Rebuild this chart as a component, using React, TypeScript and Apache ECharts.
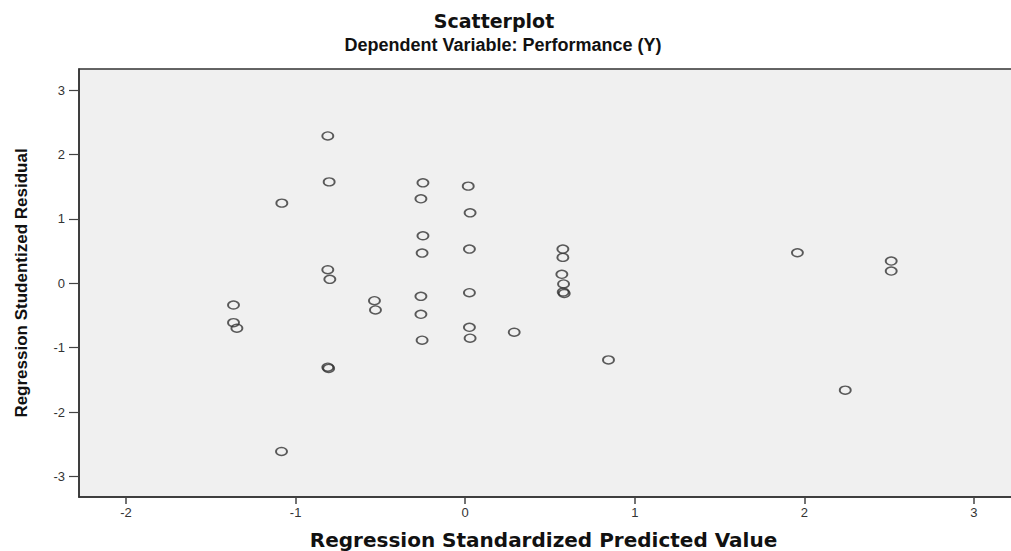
import React, { useEffect, useRef } from "react";
import * as echarts from "echarts";

const predicted: number[] = [
  -0.81, -0.802, -1.081, -0.249, -0.261, 0.018, 0.029, -0.249, -0.254, 0.025,
  0.576, 0.576, 0.57, 0.58, 0.578, 0.584, -0.81, -0.798, -0.261, 0.025,
  -0.535, -0.529, -1.366, -1.366, -1.346, -0.261, 0.025, 0.289, -0.254, 0.029,
  -0.81, -0.805, 0.845, 1.959, 2.512, 2.512, 2.241, -1.083,
];
const residual: number[] = [
  2.29, 1.576, 1.246, 1.561, 1.313, 1.51, 1.095, 0.739, 0.47, 0.532,
  0.532, 0.403, 0.14, -0.01, -0.135, -0.158, 0.211, 0.062, -0.202, -0.146,
  -0.27, -0.414, -0.337, -0.611, -0.698, -0.481, -0.683, -0.76, -0.884, -0.853,
  -1.303, -1.322, -1.19, 0.475, 0.346, 0.191, -1.66, -2.613,
];
const xTicks: number[] = [-2, -1, 0, 1, 2, 3];
const yTicks: number[] = [-3, -2, -1, 0, 1, 2, 3];
const chartTitle = "Scatterplot";
const chartSubtitle = "Dependent Variable: Performance (Y)";
const xName = "Regression Standardized Predicted Value";
const yName = "Regression Studentized Residual";

export default function App() {
  const ref = useRef<HTMLDivElement>(null);
  useEffect(() => {
    if (!ref.current) return;
    const chart = echarts.init(ref.current, null, { renderer: "svg" });
    const points = predicted.map((x, i) => [x, residual[i]]);
    chart.setOption({
      animation: false,
      backgroundColor: "#ffffff",
      grid: {
        left: 79,
        top: 69,
        right: -3,
        bottom: 54,
        containLabel: false,
        outerBoundsMode: "none",
        show: true,
        backgroundColor: "#f0f0f0",
        borderColor: "#333333",
        borderWidth: 1.5,
      },
      graphic: [
        {
          type: "text",
          x: 494,
          y: 21,
          style: {
            text: chartTitle,
            textAlign: "center",
            textVerticalAlign: "middle",
            font: 'bold 19px "DejaVu Sans"',
            fill: "#111",
          },
        },
        {
          type: "text",
          x: 503,
          y: 45,
          style: {
            text: chartSubtitle,
            textAlign: "center",
            textVerticalAlign: "middle",
            font: 'bold 18px "Liberation Sans"',
            fill: "#111",
          },
        },
      ],
      xAxis: {
        type: "value",
        min: -2.277,
        max: 3.236,
        name: xName,
        nameLocation: "middle",
        nameGap: 33,
        nameTextStyle: {
          fontFamily: "DejaVu Sans",
          fontWeight: "bold",
          fontSize: 20,
          color: "#111",
          padding: [0, 6, 0, 0],
        },
        axisLine: { show: true, onZero: false, lineStyle: { color: "#333", width: 1.5 } },
        axisTick: {
          show: true,
          length: 7,
          customValues: xTicks,
          lineStyle: { color: "#444", width: 1.5 },
        },
        axisLabel: {
          customValues: xTicks,
          margin: 9,
          fontFamily: "Liberation Sans",
          fontSize: 13,
          color: "#333",
        },
        splitLine: { show: false },
      },
      yAxis: {
        type: "value",
        min: -3.32,
        max: 3.33,
        name: yName,
        nameLocation: "middle",
        nameGap: 49,
        nameRotate: 90,
        nameTextStyle: {
          fontFamily: "Liberation Sans",
          fontWeight: "bold",
          fontSize: 17,
          color: "#111",
        },
        axisLine: { show: true, onZero: false, lineStyle: { color: "#333", width: 1.5 } },
        axisTick: {
          show: true,
          length: 10,
          customValues: yTicks,
          lineStyle: { color: "#444", width: 1.2 },
        },
        axisLabel: {
          customValues: yTicks,
          margin: 14,
          fontFamily: "Liberation Sans",
          fontSize: 13,
          color: "#333",
        },
        splitLine: { show: false },
      },
      series: [
        {
          type: "scatter",
          data: points,
          symbol: "circle",
          symbolSize: [11, 8],
          itemStyle: {
            color: "rgba(0,0,0,0)",
            borderColor: "#333",
            borderWidth: 1.6,
          },
          emphasis: { disabled: true },
        },
      ],
    });
    return () => chart.dispose();
  }, []);
  return (
    <div
      ref={ref}
      style={{ position: "absolute", left: 0, top: 0, width: 1011, height: 551 }}
    />
  );
}
